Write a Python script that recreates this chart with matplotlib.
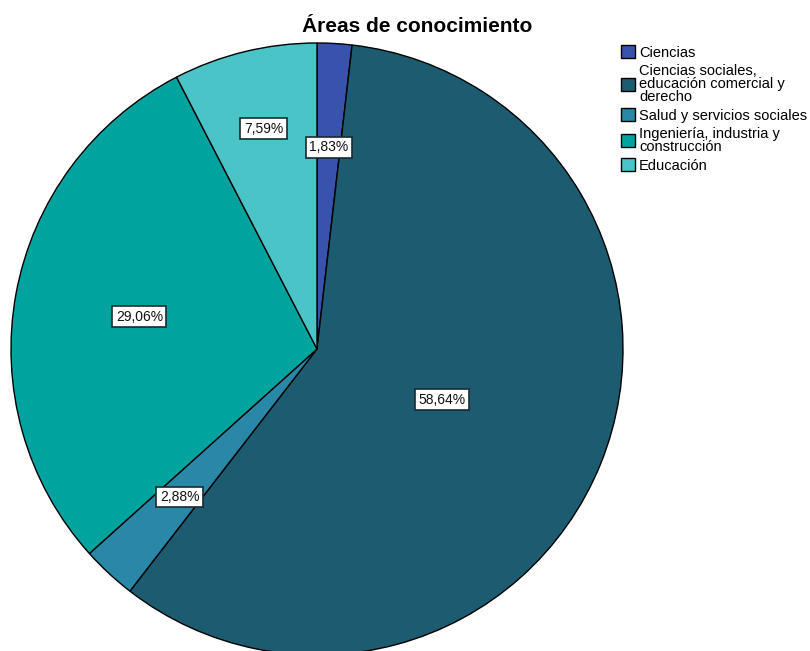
import matplotlib.pyplot as plt
import numpy as np

plt.rcParams['font.family'] = ['Liberation Sans', 'DejaVu Sans']

categorias = ['Ciencias',
              'Ciencias sociales,\neducación comercial y\nderecho',
              'Salud y servicios sociales',
              'Ingeniería, industria y\nconstrucción',
              'Educación']
porcentajes = [1.83, 58.64, 2.88, 29.06, 7.59]
colores = ['#3953AD', '#1C5B70', '#2987A8', '#01A39F', '#4BC4C8']

# distancia de cada etiqueta al centro (fracción del radio)
dist_etiquetas = [0.66, 0.44, 0.66, 0.59, 0.74]

fig = plt.figure(figsize=(8.1, 6.51), dpi=100)
ax = fig.add_axes([0, 0, 1, 1])

wedges, _ = ax.pie(porcentajes, colors=colores, startangle=90, counterclock=False,
                   radius=1.0, center=(0, 0),
                   wedgeprops={'edgecolor': 'black', 'linewidth': 1.0})

for w, p, d in zip(wedges, porcentajes, dist_etiquetas):
    ang = np.deg2rad((w.theta1 + w.theta2) / 2)
    txt = f'{p:.2f}%'.replace('.', ',')
    ax.text(d * np.cos(ang), d * np.sin(ang), txt, ha='center', va='center',
            fontsize=10, color='#111111',
            bbox=dict(boxstyle='square,pad=0.25', facecolor='white',
                      edgecolor='#1a2a30', linewidth=1.2))

ax.set_xlim(-317 / 306, (810 - 317) / 306)
ax.set_ylim(-(651 - 349) / 306, 349 / 306)
ax.set_aspect('auto')
ax.axis('off')

fig.text(417 / 810, 1 - 27 / 651, 'Áreas de conocimiento', ha='center', va='center',
         fontsize=15, fontweight='bold')

leg = ax.legend(wedges, categorias, loc='upper left',
                bbox_to_anchor=(621 / 810, 1 - 45 / 651), bbox_transform=fig.transFigure,
                frameon=False, fontsize=10.5, handlelength=0.95, handleheight=1.0,
                handletextpad=0.3, labelspacing=0.3, borderpad=0, borderaxespad=0)
for t in leg.get_texts():
    t.set_linespacing(0.9)

fig.savefig('out.png', dpi=100)
